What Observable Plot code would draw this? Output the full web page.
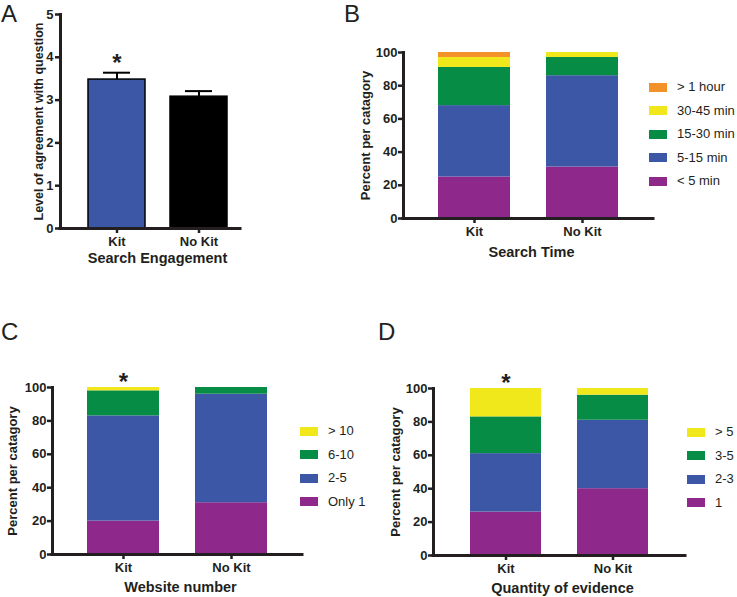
<!DOCTYPE html>
<html><head><meta charset="utf-8">
<script src="https://cdn.jsdelivr.net/npm/d3@7"></script>
<script src="https://cdn.jsdelivr.net/npm/@observablehq/plot@0.6"></script>
<style>
body{margin:0;background:#fff;}
#fig{position:relative;width:737px;height:597px;font-family:"Liberation Sans",Arial,sans-serif;color:#231f20;}
.panel{position:absolute;}
.panel svg{overflow:visible;}
.letter{position:absolute;font-size:24px;line-height:normal;}
.legend{position:absolute;left:0;top:0;font-size:13px;}
.row{position:absolute;height:0;white-space:nowrap;}
.sw{position:absolute;left:0;width:18px;height:9px;top:-4.5px;}
.lab{position:absolute;left:28px;top:-8px;line-height:16px;}
</style></head><body><div id="fig"></div>
<script>
// ---------- data ----------
const groups = ["Kit", "No Kit"];

// A: Search Engagement (mean ± SEM)
const engagementMean = [3.48, 3.08];
const engagementSem = [0.16, 0.13];
const engagementSig = ["Kit"];

// B: Search Time (% per category)
const timeBins = ["< 5 min", "5-15 min", "15-30 min", "30-45 min", "> 1 hour"];
const timeKit = [25, 43, 23, 6, 3];
const timeNoKit = [31, 55, 11, 3, 0];

// C: Website number
const siteBins = ["Only 1", "2-5", "6-10", "> 10"];
const siteKit = [20, 63, 15, 2];
const siteNoKit = [31, 65, 4, 0];
const siteSig = ["Kit"];

// D: Quantity of evidence
const evidenceBins = ["1", "2-3", "3-5", "> 5"];
const evidenceKit = [26, 35, 22, 17];
const evidenceNoKit = [40, 41, 15, 4];
const evidenceSig = ["Kit"];

// ---------- styles ----------
const PURPLE = "#8E288B", BLUE = "#3D57A7", GREEN = "#078C45", YELLOW = "#F1E81C", ORANGE = "#F4922A";
const INK = "#231f20";
const FONT = "Liberation Sans, Arial, sans-serif";

const fig = document.getElementById("fig");

function place(node, left, top) {
  const d = document.createElement("div");
  d.className = "panel";
  d.style.left = left + "px";
  d.style.top = top + "px";
  d.appendChild(node);
  fig.appendChild(d);
}
function letter(t, left, top) {
  const d = document.createElement("div");
  d.className = "letter";
  d.textContent = t;
  d.style.left = left + "px";
  d.style.top = top + "px";
  fig.appendChild(d);
}
function legend(bins, colors, x, y0, step) {
  const L = document.createElement("div");
  L.className = "legend";
  const order = bins.map((b, i) => i).reverse();
  order.forEach((i, k) => {
    const r = document.createElement("div");
    r.className = "row";
    r.style.left = x + "px";
    r.style.top = (y0 + k * step) + "px";
    const s = document.createElement("div");
    s.className = "sw";
    s.style.background = colors[i];
    const t = document.createElement("div");
    t.className = "lab";
    t.textContent = bins[i];
    r.appendChild(s); r.appendChild(t);
    L.appendChild(r);
  });
  fig.appendChild(L);
}

const axisCommon = {tickSize: 5, fontSize: 13, fontWeight: "bold", strokeWidth: 2.5, label: null, fill: INK};

function framing() {
  return [
    Plot.frame({anchor: "left", strokeWidth: 3, strokeLinecap: "square", stroke: INK}),
    Plot.ruleY([0], {strokeWidth: 3, strokeLinecap: "square", stroke: INK})
  ];
}
function xTitle(t, dx, dy) {
  return Plot.text([t], {frameAnchor: "bottom", dx, dy, textAnchor: "middle", lineAnchor: "middle", fontSize: 14.5, fontWeight: "bold", fill: INK});
}
function yTitle(t, dx, size) {
  return Plot.text([t], {frameAnchor: "left", dx, rotate: -90, textAnchor: "middle", lineAnchor: "middle", fontSize: size, fontWeight: "bold", fill: INK});
}

// ---------- Panel A ----------
const engRows = groups.map((g, i) => ({group: g, mean: engagementMean[i], sem: engagementSem[i]}));
const plotA = Plot.plot({
  width: 300, height: 280,
  marginLeft: 60, marginRight: 60, marginTop: 14, marginBottom: 52,
  style: {fontFamily: FONT, background: "transparent", color: INK},
  x: {type: "band", domain: groups, range: [87, 227], paddingInner: 0.31, paddingOuter: 0},
  y: {domain: [0, 5]},
  color: {domain: groups, range: [BLUE, "#000"]},
  marks: [
    Plot.barY(engRows, {x: "group", y: "mean", fill: "group", stroke: "#000", strokeWidth: 1.5}),
    Plot.ruleX(engRows, {x: "group", y1: "mean", y2: d => d.mean + d.sem, strokeWidth: 2, stroke: "#000"}),
    Plot.tickY(engRows, {x: "group", y: d => d.mean + d.sem, strokeWidth: 2, stroke: "#000", insetLeft: 15, insetRight: 15}),
    Plot.axisY({...axisCommon, ticks: [0, 1, 2, 3, 4, 5], tickFormat: d3.format("d"), tickPadding: 2}),
    Plot.axisX({...axisCommon, tickPadding: 3}),
    ...framing(),
    Plot.text(engagementSig, {x: d => d, y: d => engRows.find(r => r.group === d).mean + engRows.find(r => r.group === d).sem,
      text: () => "*", dy: -9, fontSize: 24, fontWeight: "bold", fill: INK}),
    xTitle("Search Engagement", 7, 30),
    yTitle("Level of agreement with question", -22, 12.5)
  ]
});
place(plotA, 0, 0);

// ---------- stacked panels ----------
function stacked(o) {
  const rows = groups.flatMap((g, gi) => o.bins.map((b, bi) => ({group: g, bin: b, value: (gi === 0 ? o.kit : o.noKit)[bi]})));
  const totals = new Map(groups.map((g, gi) => [g, d3.sum(gi === 0 ? o.kit : o.noKit)]));
  return Plot.plot({
    width: o.w, height: o.h,
    marginLeft: o.ml, marginRight: o.mr, marginTop: o.mt, marginBottom: o.mb,
    style: {fontFamily: FONT, background: "transparent", color: INK},
    x: {type: "band", domain: groups, range: o.range, paddingInner: 1 / 3, paddingOuter: 0},
    y: {domain: [0, 100]},
    color: {domain: o.bins, range: o.colors},
    marks: [
      Plot.barY(rows, {x: "group", y: "value", fill: "bin"}),
      Plot.axisY({...axisCommon, ticks: d3.range(0, 101, 20), tickFormat: d3.format("d"), tickPadding: 1}),
      Plot.axisX({...axisCommon, tickPadding: 3}),
      ...framing(),
      Plot.text(o.sig || [], {x: d => d, y: d => totals.get(d), text: () => "*", dy: -5, fontSize: 24, fontWeight: "bold", fill: INK}),
      xTitle(o.title, 3, o.titleDy),
      yTitle("Percent per catagory", o.labelDx, 13)
    ]
  });
}

const timeColors = [PURPLE, BLUE, GREEN, YELLOW, ORANGE];
const fourColors = [PURPLE, BLUE, GREEN, YELLOW];

place(stacked({bins: timeBins, kit: timeKit, noKit: timeNoKit, colors: timeColors, title: "Search Time",
  w: 340, h: 280, ml: 73, mr: 17, mt: 52, mb: 62, range: [108, 288], titleDy: 34, labelDx: -38}), 330, 0);

place(stacked({bins: siteBins, kit: siteKit, noKit: siteNoKit, colors: fourColors, sig: siteSig, title: "Website number",
  w: 320, h: 307, ml: 52, mr: 18, mt: 97, mb: 43, range: [87, 267], titleDy: 33, labelDx: -40}), 0, 290);

place(stacked({bins: evidenceBins, kit: evidenceKit, noKit: evidenceNoKit, colors: fourColors, sig: evidenceSig, title: "Quantity of evidence",
  w: 360, h: 307, ml: 93, mr: 15, mt: 98, mb: 42, range: [130, 309], titleDy: 33, labelDx: -38}), 340, 290);

// ---------- legends & panel letters ----------
legend(timeBins, timeColors, 649, 87, 23.5);
legend(siteBins, fourColors, 300, 431, 23.5);
legend(evidenceBins, fourColors, 687, 432, 23.5);

letter("A", 1, 0);
letter("B", 344, 0);
letter("C", 1, 318);
letter("D", 378, 318);
</script></body></html>
